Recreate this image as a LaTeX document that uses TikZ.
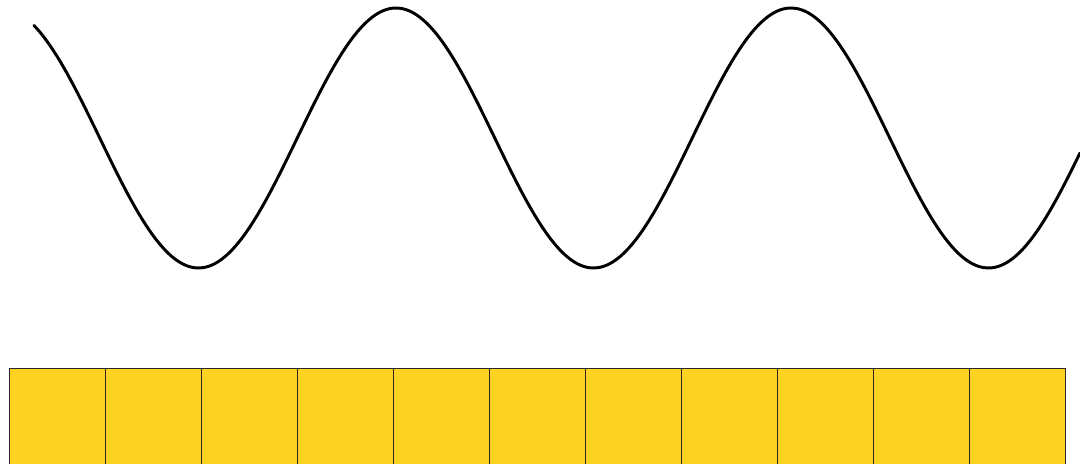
\documentclass[tikz,border=0pt]{standalone}
\usepackage{tikz}
\usepackage{xcolor}
\usetikzlibrary{positioning}
\definecolor{cellyellow}{RGB}{253,210,35}
\definecolor{celledge}{RGB}{40,40,40}

\begin{document}
\begin{tikzpicture}[x=0.025cm, y=-0.025cm,
    cell/.style={draw=celledge, line width=0.6pt, fill=cellyellow, minimum width=2.4cm, minimum height=2.4cm, inner sep=0pt, outer sep=0pt}]
  \useasboundingbox (0,0) rectangle (1080,464);
  % wave
  \draw[line width=2.1pt, line cap=round, smooth, domain=34:1080, samples=240]
    plot (\x, {138-130*cos(0.911392*(\x-396))});
  % row of cells
  \node[cell, anchor=north west] (c0) at (9,368) {};
  \foreach \i [remember=\i as \prev (initially 0)] in {1,...,10}
    \node[cell, right=0pt of c\prev] (c\i) {};
\end{tikzpicture}
\end{document}
